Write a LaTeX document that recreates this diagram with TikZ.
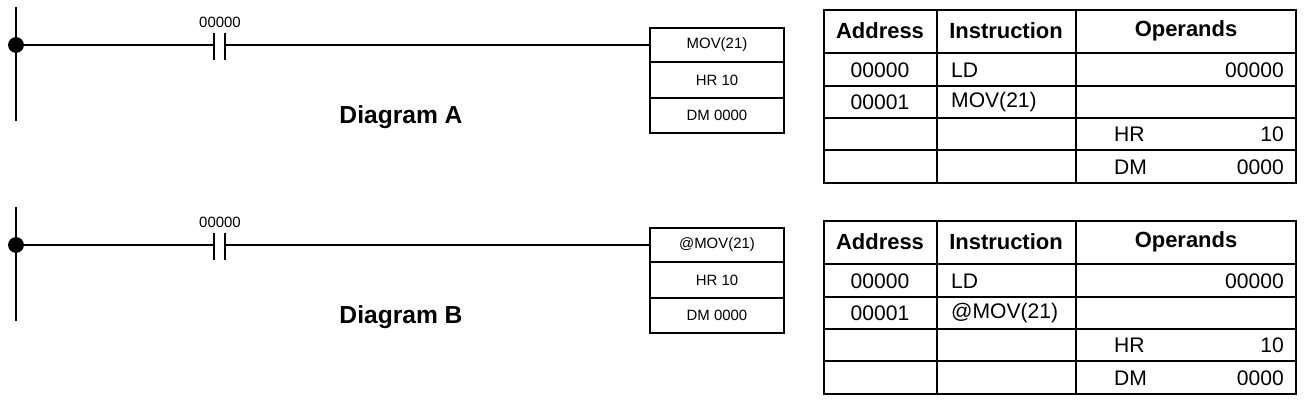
\documentclass[tikz,border=0pt]{standalone}
\usepackage{fontspec}
\setmainfont{Liberation Sans}

\begin{document}
\begin{tikzpicture}[x=0.02cm, y=-0.02cm,
	wire/.style={line width=1.6pt},
	cell/.style={line width=1pt},
	boxtxt/.style={font=\fontsize{8.5}{10}\selectfont},
	tabtxt/.style={font=\fontsize{12}{14}\selectfont},
	headtxt/.style={font=\bfseries\fontsize{12.5}{14}\selectfont}]
	\useasboundingbox (0,0) rectangle (1306,401);
	\foreach \dy/\ab/\instr/\top in {0/A/MOV(21)/10, 200/B/@MOV(21)/221} {
		% ladder rung
		\draw[line width=1.4pt] (16,7+\dy) -- (16,121+\dy);
		\fill (16,45+\dy) circle (4.5pt);
		\coordinate (rail\ab) at (16,45+\dy);
		\coordinate (cl\ab) at (214,45+\dy);
		\coordinate (cr\ab) at (225,45+\dy);
		\draw[line width=1.4pt] (214,33+\dy) -- (214,60+\dy);
		\draw[line width=1.4pt] (225,33+\dy) -- (225,60+\dy);
		\node[boxtxt] (lab\ab) at (220,22+\dy) {00000};
		\draw[cell] (650,28+\dy) rectangle (784,133+\dy);
		\draw[cell] (650,62+\dy) -- (784,62+\dy);
		\draw[cell] (650,98+\dy) -- (784,98+\dy);
		\node[boxtxt] (op\ab) at (717,45+\dy) {\instr};
		\node[boxtxt] (hr\ab) at (717,80+\dy) {HR 10};
		\node[boxtxt] (dm\ab) at (717,115+\dy) {DM 0000};
		\draw[wire] (railA|-rail\ab) -- (cl\ab);
		\draw[wire] (cr\ab) -- (op\ab.west-|650,0);
		\node[font=\bfseries\fontsize{14}{16}\selectfont] (name\ab) at (401,117+\dy) {Diagram \ab};
		% mnemonic table
		\draw[cell] (824,\top) rectangle (1296,\top+173);
		\foreach \r in {43,76,108,140} \draw[cell] (824,\top+\r) -- (1296,\top+\r);
		\draw[cell] (937,\top) -- (937,\top+173);
		\draw[cell] (1076,\top) -- (1076,\top+173);
		\node[headtxt] (ha\ab) at (880,\top+21) {Address};
		\node[headtxt] (hi\ab) at (1006,\top+21) {Instruction};
		\node[headtxt] (ho\ab) at (1186,\top+21) {Operands};
		\node[tabtxt] (a1\ab) at (880,\top+60) {00000};
		\node[tabtxt] (a2\ab) at (880,\top+92) {00001};
		\node[tabtxt, anchor=west] (i1\ab) at (945,\top+60) {LD};
		\node[tabtxt, anchor=west] (i2\ab) at (945,\top+92) {\instr};
		\node[tabtxt, anchor=east] (o1\ab) at (1290,\top+60) {00000};
		\node[tabtxt, anchor=west] (o3\ab) at (1108,\top+124) {HR};
		\node[tabtxt, anchor=east] (o3v\ab) at (1290,\top+124) {10};
		\node[tabtxt, anchor=west] (o4\ab) at (1108,\top+157) {DM};
		\node[tabtxt, anchor=east] (o4v\ab) at (1290,\top+157) {0000};
	}
\end{tikzpicture}
\end{document}
